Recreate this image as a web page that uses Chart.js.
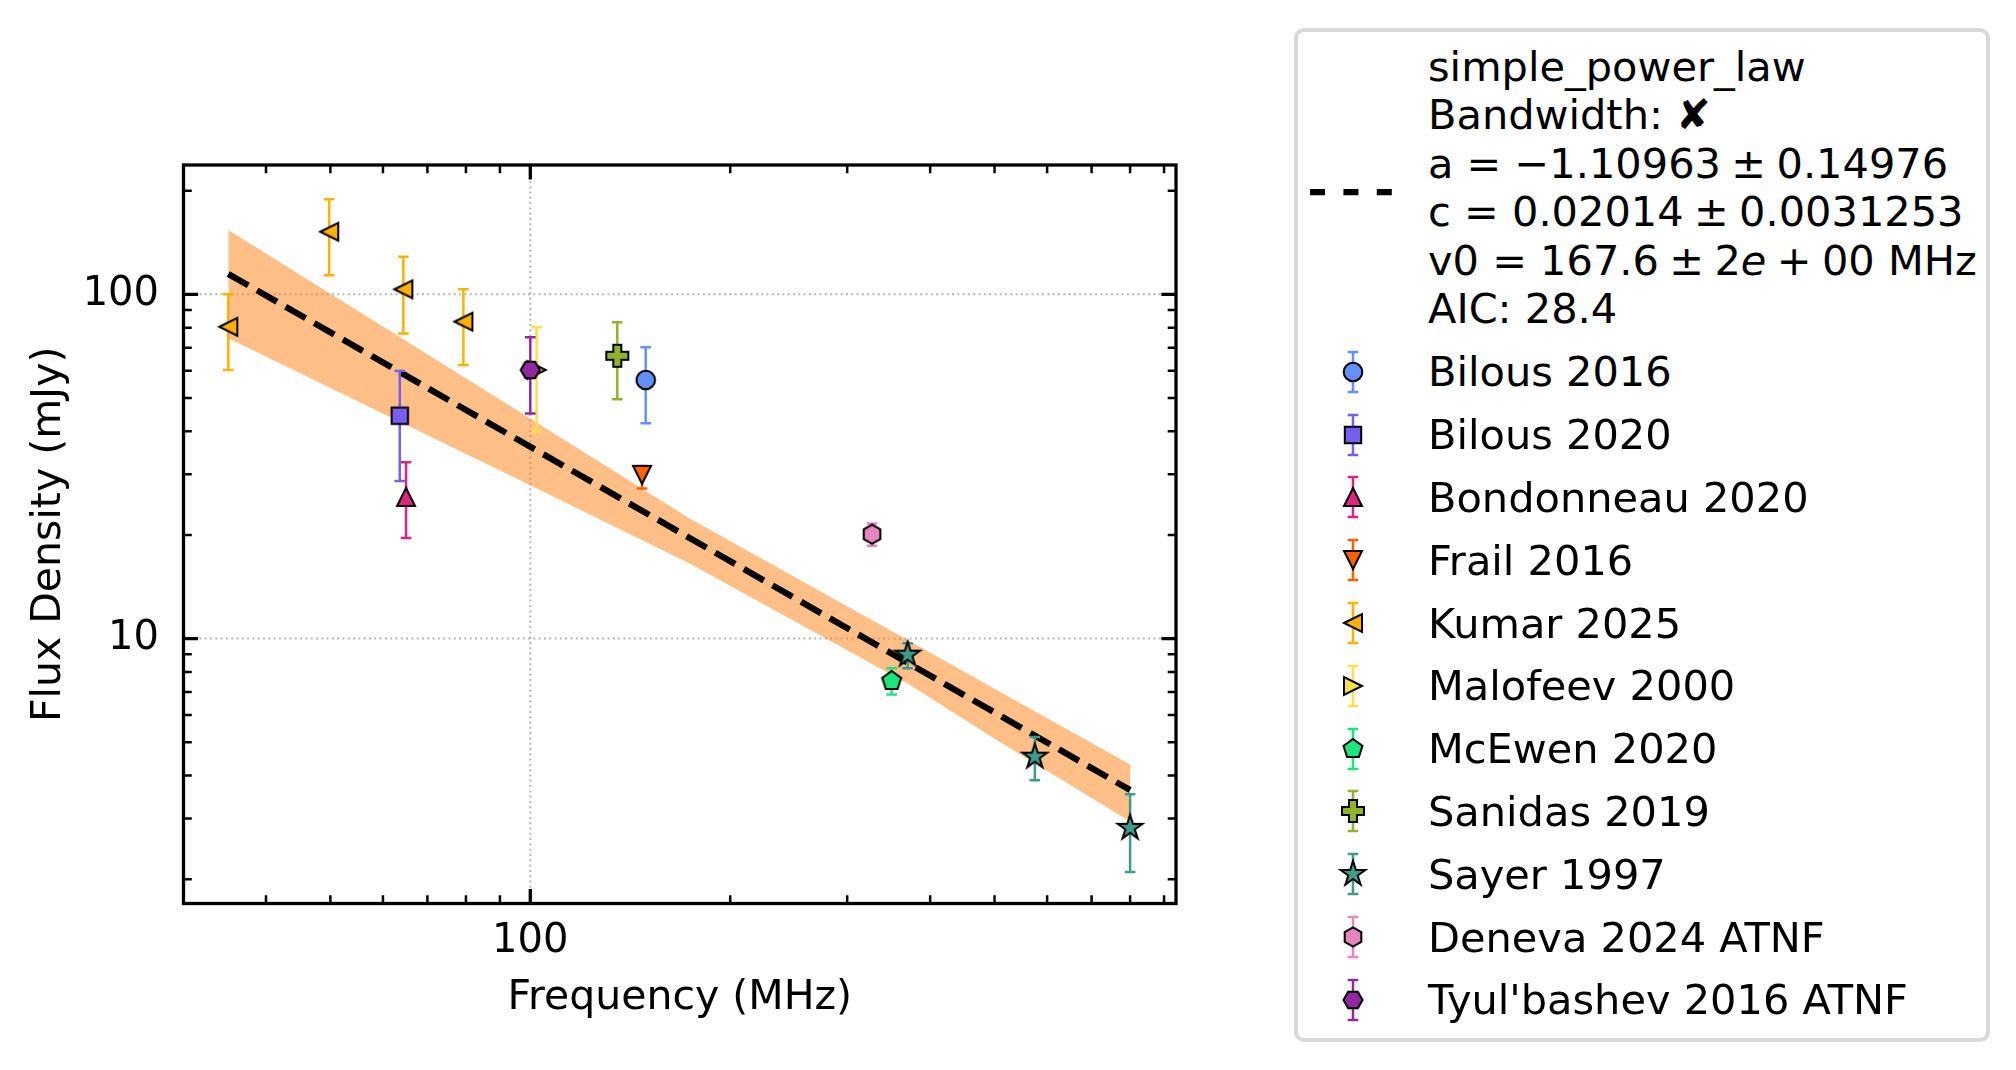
<!DOCTYPE html>
<html lang="en">
<head>
<meta charset="UTF-8">
<title>Flux density spectrum</title>
<style>
    html, body {
        margin: 0;
        padding: 0;
        background: #fff;
    }
    #wrap {
        position: relative;
        width: 2016px;
        height: 1070px;
    }
    #chart {
        position: absolute;
        left: 0;
        top: 0;
    }
    #legend {
        position: absolute;
        left: 1293.5px;
        top: 27.5px;
        width: 696px;
        height: 1014px;
        box-sizing: border-box;
        border: 4px solid #d9d9d9;
        border-radius: 10px;
        background: #fff;
        font-family: 'DejaVu Sans', sans-serif;
        font-size: 41.5px;
        color: #000;
    }
    .line {
        position: absolute;
        white-space: nowrap;
        line-height: 48px;
    }
    .handle {
        position: absolute;
    }
</style>
<script src="https://cdn.jsdelivr.net/npm/chart.js"></script>
</head>
<body>
<div id="wrap">
    <canvas id="chart" width="2016" height="1070"></canvas>
    <div id="legend"></div>
</div>
<script>
// ---- values ----
const xTickValues = [100];
const xTickLabels = ['100'];
const yTickValues = [10, 100];
const yTickLabels = ['10', '100'];

// fitted power law (straight in log-log, so two ends are enough)
const fitFreq = [35.1, 800];
const fitFlux = [114.6, 3.63];

// uncertainty band around the fit
const bandFreq = [35.1, 100, 174, 370, 510, 800];
const bandUpper = [153.8, 43.6, 22.3, 9.9, 7.0, 4.31];
const bandLower = [74.5, 27.9, 16.5, 7.4, 5.0, 2.94];

// measurements (MHz, mJy, lower, upper)
const bilous2016Freq = [149.2], bilous2016Flux = [56.4], bilous2016Low = [42.2], bilous2016High = [70.2];
const bilous2020Freq = [63.6], bilous2020Flux = [44.4], bilous2020Low = [28.7], bilous2020High = [59.9];
const bondonneauFreq = [65.0], bondonneauFlux = [25.8], bondonneauLow = [19.6], bondonneauHigh = [32.5];
const frailFreq = [147.3], frailFlux = [29.9], frailLow = [27.3], frailHigh = [31.7];
const kumarFreq = [35.1, 49.8, 64.4, 79.3];
const kumarFlux = [80.5, 152.0, 103.4, 83.3];
const kumarLow = [60.3, 113.6, 77.0, 62.3];
const kumarHigh = [100.0, 188.8, 128.6, 103.4];
const malofeevFreq = [102.2], malofeevFlux = [60.3], malofeevLow = [39.9], malofeevHigh = [80.2];
const mcewenFreq = [350], mcewenFlux = [7.53], mcewenLow = [6.88], mcewenHigh = [8.2];
const sanidasFreq = [135.2], sanidasFlux = [66.3], sanidasLow = [49.6], sanidasHigh = [82.9];
const sayerFreq = [370, 575, 800];
const sayerFlux = [8.98, 4.54, 2.82];
const sayerLow = [8.2, 3.88, 2.10];
const sayerHigh = [9.7, 5.18, 3.53];
const denevaFreq = [327], denevaFlux = [20.1], denevaLow = [18.6], denevaHigh = [21.6];
const tyulbashevFreq = [100], tyulbashevFlux = [60.3], tyulbashevLow = [45.1], tyulbashevHigh = [75.0];

// narrow spaces round the math operators, like mathtext
const fitLegendLines = [
    'simple_power_law',
    'Bandwidth: \u2718',
    'a = \u22121.10963\u2005\u00b1\u20050.14976',
    'c = 0.02014\u2005\u00b1\u20050.0031253',
    'v0 = 167.6\u2005\u00b1\u20052<i>e</i>\u2005+\u200500 MHz',
    'AIC: 28.4'
];

const series = [
    { label: 'Bilous 2016', freq: bilous2016Freq, flux: bilous2016Flux, low: bilous2016Low, high: bilous2016High, color: '#648fff', marker: 'o' },
    { label: 'Bilous 2020', freq: bilous2020Freq, flux: bilous2020Flux, low: bilous2020Low, high: bilous2020High, color: '#785ef0', marker: 's' },
    { label: 'Bondonneau 2020', freq: bondonneauFreq, flux: bondonneauFlux, low: bondonneauLow, high: bondonneauHigh, color: '#dc267f', marker: '^' },
    { label: 'Frail 2016', freq: frailFreq, flux: frailFlux, low: frailLow, high: frailHigh, color: '#fe6100', marker: 'v' },
    { label: 'Kumar 2025', freq: kumarFreq, flux: kumarFlux, low: kumarLow, high: kumarHigh, color: '#ffb000', marker: '<' },
    { label: 'Malofeev 2000', freq: malofeevFreq, flux: malofeevFlux, low: malofeevLow, high: malofeevHigh, color: '#ffdf4a', marker: '>' },
    { label: 'McEwen 2020', freq: mcewenFreq, flux: mcewenFlux, low: mcewenLow, high: mcewenHigh, color: '#1be57b', marker: 'p' },
    { label: 'Sanidas 2019', freq: sanidasFreq, flux: sanidasFlux, low: sanidasLow, high: sanidasHigh, color: '#8fb42a', marker: 'P' },
    { label: 'Sayer 1997', freq: sayerFreq, flux: sayerFlux, low: sayerLow, high: sayerHigh, color: '#3e9c8a', marker: '*' },
    { label: 'Deneva 2024 ATNF', freq: denevaFreq, flux: denevaFlux, low: denevaLow, high: denevaHigh, color: '#e785bf', marker: 'h' },
    { label: "Tyul'bashev 2016 ATNF", freq: tyulbashevFreq, flux: tyulbashevFlux, low: tyulbashevLow, high: tyulbashevHigh, color: '#8e2a9e', marker: 'H' }
];

const FONT = 'DejaVu Sans';

// ---- marker shapes, drawn once into small canvases ----
function tracePath(ctx, shape) {
    const poly = (n, r, rot) => {
        for (let k = 0; k < n; k++) {
            const a = rot + k * 2 * Math.PI / n;
            const px = r * Math.cos(a), py = r * Math.sin(a);
            if (k) ctx.lineTo(px, py); else ctx.moveTo(px, py);
        }
        ctx.closePath();
    };
    ctx.beginPath();
    switch (shape) {
        case 'o': ctx.arc(0, 0, 9.3, 0, Math.PI * 2); break;
        case 's': ctx.rect(-8.2, -8.2, 16.4, 16.4); break;
        case '^': ctx.moveTo(0, -9); ctx.lineTo(9, 9); ctx.lineTo(-9, 9); ctx.closePath(); break;
        case 'v': ctx.moveTo(0, 9); ctx.lineTo(9, -9); ctx.lineTo(-9, -9); ctx.closePath(); break;
        case '<': ctx.moveTo(-9, 0); ctx.lineTo(9, -9); ctx.lineTo(9, 9); ctx.closePath(); break;
        case '>': ctx.moveTo(9, 0); ctx.lineTo(-9, -9); ctx.lineTo(-9, 9); ctx.closePath(); break;
        case 'p': poly(5, 10, -Math.PI / 2); break;
        case 'h': poly(6, 9.6, -Math.PI / 2); break;
        case 'H': poly(6, 9.6, 0); break;
        case '*':
            for (let k = 0; k < 10; k++) {
                const r = k % 2 ? 13 * 0.382 : 13;
                const a = -Math.PI / 2 + k * Math.PI / 5;
                if (k) ctx.lineTo(r * Math.cos(a), r * Math.sin(a)); else ctx.moveTo(r * Math.cos(a), r * Math.sin(a));
            }
            ctx.closePath();
            break;
        case 'P': {
            const e = 11, w = 4;
            const pts = [[-w, -e], [w, -e], [w, -w], [e, -w], [e, w], [w, w], [w, e], [-w, e], [-w, w], [-e, w], [-e, -w], [-w, -w]];
            pts.forEach((p, i) => i ? ctx.lineTo(p[0], p[1]) : ctx.moveTo(p[0], p[1]));
            ctx.closePath();
            break;
        }
    }
}

function drawMarker(ctx, shape, color, cx, cy) {
    ctx.save();
    ctx.translate(cx, cy);
    tracePath(ctx, shape);
    ctx.fillStyle = color;
    ctx.fill();
    ctx.lineWidth = 2;
    ctx.lineJoin = 'miter';
    ctx.strokeStyle = '#000';
    ctx.stroke();
    ctx.restore();
}

function makeMarker(shape, color) {
    const c = document.createElement('canvas');
    c.width = 34;
    c.height = 34;
    drawMarker(c.getContext('2d'), shape, color, 17, 17);
    return c;
}

function drawErrorBar(ctx, color, px, top, bot) {
    ctx.save();
    ctx.strokeStyle = color;
    ctx.lineWidth = 2.5;
    ctx.beginPath();
    ctx.moveTo(px, top); ctx.lineTo(px, bot);
    ctx.moveTo(px - 5.3, top); ctx.lineTo(px + 5.3, top);
    ctx.moveTo(px - 5.3, bot); ctx.lineTo(px + 5.3, bot);
    ctx.stroke();
    ctx.restore();
}

// ---- datasets ----
const datasets = series.map((s, i) => ({
    label: s.label,
    data: s.freq.map((f, j) => ({ x: f, y: s.flux[j] })),
    errLow: s.low,
    errHigh: s.high,
    errColor: s.color,
    pointStyle: makeMarker(s.marker, s.color),
    pointRadius: 10,
    showLine: false,
    order: series.length - i
}));

datasets.push({
    label: 'fit',
    data: fitFreq.map((f, j) => ({ x: f, y: fitFlux[j] })),
    showLine: true,
    borderColor: '#000',
    borderWidth: 6.25,
    borderDash: [23, 10],
    pointRadius: 0,
    fill: false,
    order: 40
});
datasets.push({
    label: 'band upper',
    data: bandFreq.map((f, j) => ({ x: f, y: bandUpper[j] })),
    showLine: true,
    borderWidth: 0,
    borderColor: 'rgba(0,0,0,0)',
    backgroundColor: 'rgba(255,127,14,0.5)',
    pointRadius: 0,
    fill: '+1',
    order: 50
});
datasets.push({
    label: 'band lower',
    data: bandFreq.map((f, j) => ({ x: f, y: bandLower[j] })),
    showLine: true,
    borderWidth: 0,
    borderColor: 'rgba(0,0,0,0)',
    pointRadius: 0,
    fill: false,
    order: 51
});

// error bars go under each dataset's markers
const errorBarPlugin = {
    id: 'errorBars',
    beforeDatasetDraw(chart, args) {
        const ds = chart.data.datasets[args.index];
        if (!ds.errLow) return;
        const { ctx, scales: { x, y } } = chart;
        ds.data.forEach((p, i) => {
            drawErrorBar(ctx, ds.errColor, x.getPixelForValue(p.x),
                y.getPixelForValue(ds.errHigh[i]), y.getPixelForValue(ds.errLow[i]));
        });
    }
};

// minor tick values between the axis limits
function minorTicks(scale, majors) {
    const out = [];
    for (let d = -1; d <= 4; d++) {
        for (let k = 2; k <= 9; k++) {
            const v = k * Math.pow(10, d);
            if (v > scale.min && v < scale.max && !majors.includes(v)) out.push(v);
        }
    }
    return out;
}

// dotted grid, inward ticks on every side, full frame
const framePlugin = {
    id: 'frame',
    beforeDatasetsDraw(chart) {
        const { ctx, chartArea: a, scales: { x, y } } = chart;
        ctx.save();
        ctx.strokeStyle = '#b4b4b4';
        ctx.lineWidth = 2;
        ctx.setLineDash([2, 3.3]);
        ctx.beginPath();
        xTickValues.forEach(v => {
            const px = x.getPixelForValue(v);
            ctx.moveTo(px, a.top); ctx.lineTo(px, a.bottom);
        });
        yTickValues.forEach(v => {
            const py = y.getPixelForValue(v);
            ctx.moveTo(a.left, py); ctx.lineTo(a.right, py);
        });
        ctx.stroke();
        ctx.restore();
    },
    afterDatasetsDraw(chart) {
        const { ctx, chartArea: a, scales: { x, y } } = chart;
        ctx.save();
        ctx.strokeStyle = '#000';
        const xTicks = (vals, len, w) => {
            ctx.lineWidth = w;
            ctx.beginPath();
            vals.forEach(v => {
                const px = x.getPixelForValue(v);
                ctx.moveTo(px, a.bottom); ctx.lineTo(px, a.bottom - len);
                ctx.moveTo(px, a.top); ctx.lineTo(px, a.top + len);
            });
            ctx.stroke();
        };
        const yTicks = (vals, len, w) => {
            ctx.lineWidth = w;
            ctx.beginPath();
            vals.forEach(v => {
                const py = y.getPixelForValue(v);
                ctx.moveTo(a.left, py); ctx.lineTo(a.left + len, py);
                ctx.moveTo(a.right, py); ctx.lineTo(a.right - len, py);
            });
            ctx.stroke();
        };
        xTicks(minorTicks(x, xTickValues), 8.3, 2.5);
        yTicks(minorTicks(y, yTickValues), 8.3, 2.5);
        xTicks(xTickValues, 14.6, 3.3);
        yTicks(yTickValues, 14.6, 3.3);
        ctx.lineWidth = 3.3;
        ctx.strokeRect(a.left, a.top, a.right - a.left, a.bottom - a.top);
        ctx.restore();
    }
};

const chart = new Chart(document.getElementById('chart'), {
    type: 'scatter',
    data: { datasets },
    options: {
        responsive: false,
        animation: false,
        devicePixelRatio: 1,
        layout: { padding: { left: 0, top: 165, right: 840, bottom: 0 } },
        plugins: {
            legend: { display: false },
            tooltip: { enabled: false }
        },
        scales: {
            x: {
                type: 'logarithmic',
                position: 'bottom',
                min: 30.05,
                max: 938,
                bounds: 'data',
                grid: { display: false },
                border: { display: false },
                ticks: {
                    autoSkip: false,
                    maxRotation: 0,
                    padding: 6.5,
                    color: '#000',
                    font: { family: FONT, size: 40 },
                    callback: (v, i) => xTickLabels[i]
                },
                title: {
                    display: true,
                    text: 'Frequency (MHz)',
                    color: '#000',
                    font: { family: FONT, size: 41 },
                    padding: { top: 0, bottom: 47 }
                },
                afterBuildTicks: s => { s.ticks = xTickValues.map(v => ({ value: v })); },
                afterFit: s => { s.height = 166.5; }
            },
            y: {
                type: 'logarithmic',
                position: 'left',
                min: 1.70,
                max: 237.5,
                bounds: 'data',
                grid: { display: false },
                border: { display: false },
                ticks: {
                    autoSkip: false,
                    padding: 16.5,
                    color: '#000',
                    font: { family: FONT, size: 40 },
                    callback: (v, i) => yTickLabels[i]
                },
                title: {
                    display: true,
                    text: 'Flux Density (mJy)',
                    color: '#000',
                    font: { family: FONT, size: 41 },
                    padding: { top: 24.8, bottom: 0 }
                },
                afterBuildTicks: s => { s.ticks = yTickValues.map(v => ({ value: v })); },
                afterFit: s => { s.width = 183.5; }
            }
        }
    },
    plugins: [errorBarPlugin, framePlugin]
});

// ---- legend box (html, right of the plot) ----
const legend = document.getElementById('legend');
const LX = 1297.5, LY = 31.5;
const textLeft = 1428, handleX = 1353;

function addText(html, baseline) {
    const d = document.createElement('div');
    d.className = 'line';
    d.innerHTML = html;
    d.style.left = (textLeft - LX) + 'px';
    d.style.top = (baseline - 38.4 - LY) + 'px';
    legend.appendChild(d);
}

function addHandle(cy, draw) {
    const c = document.createElement('canvas');
    c.width = 100;
    c.height = 64;
    c.className = 'handle';
    c.style.left = (handleX - 50 - LX) + 'px';
    c.style.top = (cy - 32 - LY) + 'px';
    draw(c.getContext('2d'));
    legend.appendChild(c);
}

fitLegendLines.forEach((t, i) => addText(t, 81 + 48.5 * i));
addHandle(191.7, ctx => {
    ctx.strokeStyle = '#000';
    ctx.lineWidth = 6.25;
    ctx.setLineDash([15, 18.4]);
    ctx.beginPath();
    ctx.moveTo(7, 32);
    ctx.lineTo(92, 32);
    ctx.stroke();
});

series.forEach((s, i) => {
    const cy = 371.7 + 62.8 * i;
    addHandle(cy, ctx => {
        drawErrorBar(ctx, s.color, 50, 12, 52);
        drawMarker(ctx, s.marker, s.color, 50, 32);
    });
    const d = document.createElement('div');
    d.className = 'line';
    d.textContent = s.label;
    d.style.left = (textLeft - LX) + 'px';
    d.style.top = (cy + 15 - 38.4 - LY) + 'px';
    legend.appendChild(d);
});
</script>
</body>
</html>
